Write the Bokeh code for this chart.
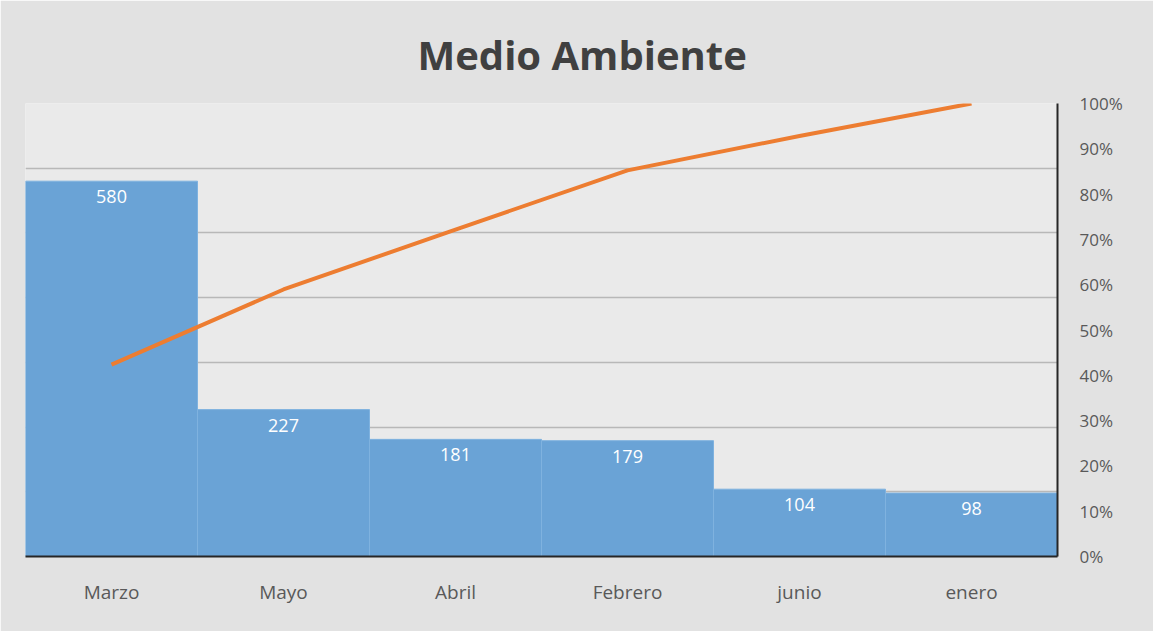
from bokeh.plotting import figure
from bokeh.models import (Range1d, LinearAxis, SingleIntervalTicker, NumeralTickFormatter,
                          FactorRange, ColumnDataSource, LabelSet, FixedTicker)
from bokeh.core.properties import value
from bokeh.embed import file_html
from bokeh.resources import INLINE

months = ["Marzo", "Mayo", "Abril", "Febrero", "junio", "enero"]
counts = [580, 227, 181, 179, 104, 98]
total = sum(counts)
cum = []
s = 0
for c in counts:
    s += c
    cum.append(s / total)

src = ColumnDataSource(dict(m=months, c=counts, cum=cum, lbl=[str(c) for c in counts]))

FONT = "Open Sans"

p = figure(width=1153, height=631, x_range=FactorRange(*months, range_padding=0),
           y_range=Range1d(0, 700), output_backend="svg", toolbar_location=None,
           min_border_left=25, min_border_right=96, min_border_top=103, min_border_bottom=75)

p.extra_y_ranges = {"pct": Range1d(0, 1)}

p.background_fill_color = "#eaeaea"
p.border_fill_color = "#e2e2e2"
p.outline_line_color = None

p.title.text = "Medio Ambiente"
p.title.align = "left"
p.title.offset = 392
p.title.text_font = FONT
p.title.text_font_size = "40px"
p.title.text_font_style = "bold"
p.title.text_color = "#404040"
p.title.standoff = 44

p.vbar(x="m", top="c", width=1.0, source=src, fill_color="#6aa3d6",
       line_color="#7fb2df", line_width=1)

p.line(x="m", y="cum", y_range_name="pct", source=src, line_color="#ed7d31",
       line_width=4)

labels = LabelSet(x="m", y="c", text="lbl", source=src, text_align="center",
                  text_baseline="top", y_offset=-9, text_color="white",
                  text_font=value(FONT), text_font_size="18px")
p.add_layout(labels)

# left axis hidden, used for gridlines
p.yaxis.ticker = SingleIntervalTicker(interval=100)
p.yaxis.visible = False
p.ygrid.grid_line_color = "#b8b8b8"
p.ygrid.grid_line_width = 1.5
p.xgrid.grid_line_color = None

ra = LinearAxis(y_range_name="pct", ticker=FixedTicker(ticks=[i / 10 for i in range(11)]),
                formatter=NumeralTickFormatter(format="0%"))
ra.axis_line_color = "#262626"
ra.axis_line_width = 2
ra.major_tick_line_color = None
ra.minor_tick_line_color = None
ra.major_label_text_font = FONT
ra.major_label_text_font_size = "17px"
ra.major_label_text_color = "#595959"
ra.major_label_standoff = 16
p.add_layout(ra, "right")

xa = p.xaxis[0]
xa.axis_line_color = "#262626"
xa.axis_line_width = 2
xa.major_tick_line_color = None
xa.minor_tick_line_color = None
xa.major_label_text_font = FONT
xa.major_label_text_font_size = "19px"
xa.major_label_text_color = "#595959"
xa.major_label_standoff = 16

open("out.html", "w").write(file_html(p, INLINE))
